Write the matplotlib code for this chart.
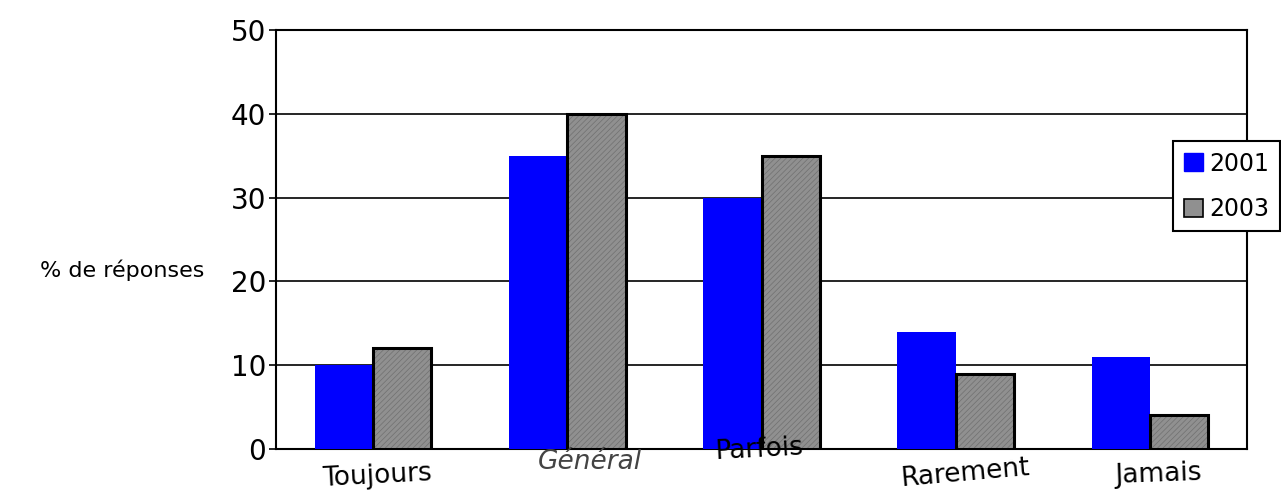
import numpy as np
import matplotlib
matplotlib.use("Agg")
import matplotlib.pyplot as plt
from matplotlib.patches import Patch
from matplotlib.transforms import blended_transform_factory

categories = ["Toujours", "Général", "Parfois", "Rarement", "Jamais"]
series_2001 = [10, 35, 30, 14, 11]
series_2003 = [12, 40, 35, 9, 4]
yticks = [0, 10, 20, 30, 40, 50]

fig = plt.figure(figsize=(12.81, 4.94), dpi=100)
ax = fig.add_axes([276 / 1281, 45 / 494, 971 / 1281, 419 / 494])

x = np.arange(len(categories))
w = 0.30

ax.bar(x - w / 2, series_2001, w, color="#0000ff", edgecolor="none", zorder=3)
# textured grey fill, then a black outline on top
b2 = ax.bar(x + w / 2, series_2003, w, color="#909090", edgecolor="#707070", linewidth=0,
            hatch="//////", zorder=3)
for p in b2:
    p.set_hatch_linewidth(0.5)
ax.bar(x + w / 2, series_2003, w, color="none", edgecolor="black", linewidth=2.2, zorder=4)

ax.set_xlim(-0.5, len(categories) - 0.5)
ax.set_ylim(0, 50)
ax.set_yticks(yticks)
ax.tick_params(axis="y", labelsize=20, length=5, width=1.2, pad=2)
ax.set_xticks([])
ax.grid(axis="y", color="black", linewidth=1.2, zorder=0)
for s in ax.spines.values():
    s.set_linewidth(1.5)
    s.set_color("black")

# category labels, irregularly placed as in the original
tr = blended_transform_factory(ax.transData, ax.transAxes)
label_dx = [0.02, 0.117, -0.013, 0.048, 0.042]
label_y = [-0.065, -0.03, -0.002, -0.058, -0.062]
label_rot = [3, 0, 3, 5, 2]
label_col = ["black", "#444444", "black", "black", "black"]
for i, c in enumerate(categories):
    ax.text(i + label_dx[i], label_y[i], c, transform=tr, ha="center", va="center",
            fontsize=19, rotation=label_rot[i], color=label_col[i], zorder=5,
            style="italic" if i == 1 else "normal")

fig.text(40 / 1281, 1 - 270 / 494, "% de réponses", fontsize=16, ha="left", va="center")

h1 = Patch(facecolor="#0000ff", edgecolor="#0000ff")
h2 = Patch(facecolor="#909090", edgecolor="black", linewidth=1.2)
leg = fig.legend(handles=[h1, h2], labels=["2001", "2003"], loc="upper left",
                 bbox_to_anchor=(1173 / 1281, 1 - 141 / 494), fontsize=17,
                 frameon=True, fancybox=False, edgecolor="black", framealpha=1,
                 handlelength=0.8, handleheight=0.8, handletextpad=0.3,
                 borderpad=0.45, labelspacing=0.9, borderaxespad=0)
leg.get_frame().set_linewidth(1.5)

fig.savefig("out.png", dpi=100)
